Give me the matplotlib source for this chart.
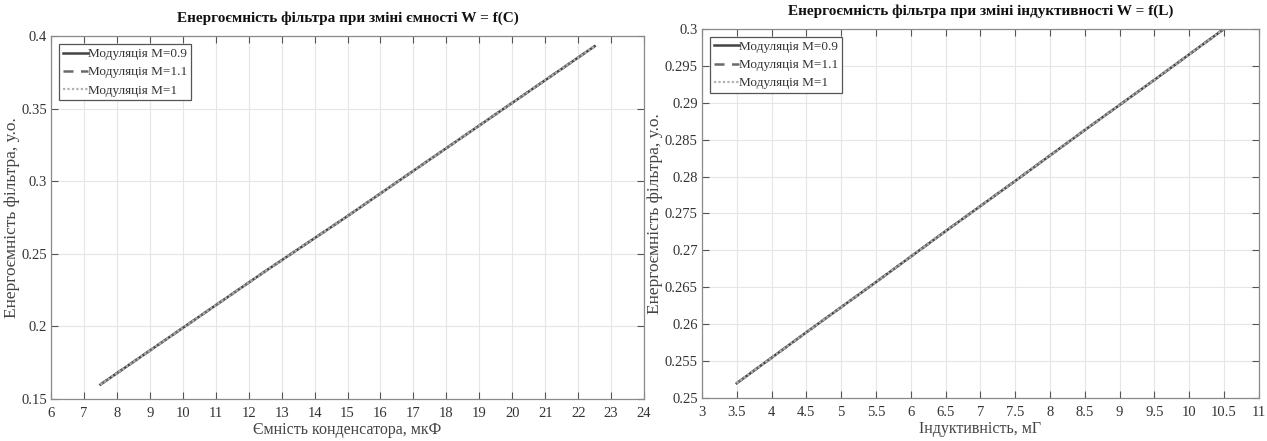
import matplotlib
matplotlib.use('Agg')
import numpy as np
from matplotlib import pyplot as plt

# --- дані ---
capacity = [7.5, 10.0, 12.5, 15.0, 17.5, 20.0, 22.5]          # мкФ
w_capacity = [0.160, 0.199, 0.238, 0.276, 0.315, 0.354, 0.393]

inductance = [3.5, 4.5, 5.5, 6.5, 7.5, 8.5, 9.5, 10.5]         # мГ
w_inductance = [0.252, 0.2589, 0.2657, 0.2726, 0.2794, 0.2863, 0.2931, 0.300]

series_labels = ['Модуляція M=0.9', 'Модуляція M=1.1', 'Модуляція M=1']

xticks_c = list(range(6, 25))
yticks_c = [0.15, 0.2, 0.25, 0.3, 0.35, 0.4]
xticks_l = [3, 3.5, 4, 4.5, 5, 5.5, 6, 6.5, 7, 7.5, 8, 8.5, 9, 9.5, 10, 10.5, 11]
yticks_l = [0.25, 0.255, 0.26, 0.265, 0.27, 0.275, 0.28, 0.285, 0.29, 0.295, 0.3]

plt.rcParams['font.family'] = ['Liberation Serif', 'DejaVu Serif']

styles = [
    dict(color='#444444', linestyle='-', linewidth=1.8),
    dict(color='#6a6a6a', linestyle=(0, (4, 3)), linewidth=1.8),
    dict(color='#b0b0b0', linestyle=(0, (1, 1)), linewidth=1.6),
]


def draw(ax, x, y, xticks, yticks, title, xlabel, ylabel_x):
    for lab, st in zip(series_labels, styles):
        ax.plot(x, y, label=lab, **st)
    ax.set_xlim(xticks[0], xticks[-1])
    ax.set_ylim(yticks[0], yticks[-1])
    ax.set_xticks(xticks)
    ax.set_yticks(yticks)
    ax.set_xticklabels([f'{v:g}' for v in xticks])
    ax.set_yticklabels([f'{v:g}' for v in yticks])
    ax.grid(True, color='#e6e6e6', linewidth=0.8)
    ax.set_axisbelow(True)
    ax.tick_params(direction='in', top=True, right=True, length=5,
                   color='#555555', labelsize=10.5, labelcolor='#333333')
    ax.tick_params(axis='x', pad=6)
    ax.tick_params(axis='y', pad=3)
    for sp in ax.spines.values():
        sp.set_color('#8a8a8a')
        sp.set_linewidth(0.9)
    ax.set_title(title, fontsize=11, fontweight='bold', color='#111111', pad=10)
    ax.set_xlabel(xlabel, fontsize=11.5, color='#444444', labelpad=1)
    ax.set_ylabel('Енергоємність фільтра, у.о.', fontsize=12.5, color='#444444')
    ax.yaxis.set_label_coords(ylabel_x, 0.5)
    leg = ax.legend(loc='upper left', fontsize=9.5, handlelength=1.9, handletextpad=0.0,
                    borderpad=0.3, labelspacing=0.45, fancybox=False, framealpha=1,
                    borderaxespad=0.6)
    leg.get_frame().set_edgecolor('#555555')
    leg.get_frame().set_linewidth(0.9)
    for t in leg.get_texts():
        t.set_color('#333333')


fig = plt.figure(figsize=(12.67, 4.41), dpi=100)
ax1 = fig.add_axes([0.0403, 0.0952, 0.468, 0.823])
ax2 = fig.add_axes([0.554, 0.0975, 0.4396, 0.837])

draw(ax1, capacity, w_capacity, xticks_c, yticks_c,
     'Енергоємність фільтра при зміні ємності W = f(C)', 'Ємність конденсатора, мкФ', -0.053)
draw(ax2, inductance, w_inductance, xticks_l, yticks_l,
     'Енергоємність фільтра при зміні індуктивності W = f(L)', 'Індуктивність, мГ', -0.07)

fig.savefig('out.png', dpi=100)
